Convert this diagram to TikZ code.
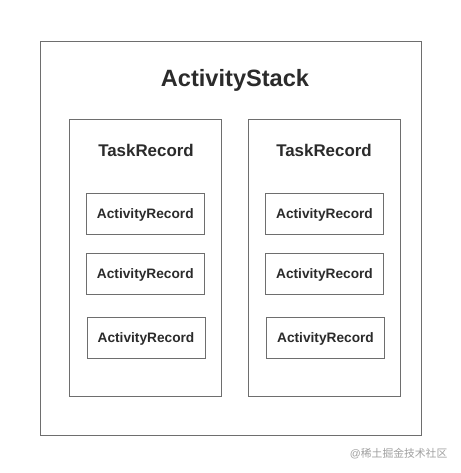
\documentclass[tikz,border=0pt]{standalone}
\usepackage{fontspec}
\setmainfont{Liberation Sans}
\newfontfamily\cjk{Noto Sans CJK SC}
\definecolor{boxline}{HTML}{6E6E6E}
\definecolor{txt}{HTML}{2B2B2B}
\definecolor{wm}{HTML}{A0A0A0}
\begin{document}
\begin{tikzpicture}[x=1pt,y=-1pt,
  frame/.style={draw=boxline,line width=0.9pt,rectangle,inner sep=0pt},
  arbox/.style={frame,minimum width=118pt,minimum height=41pt,text depth=0pt,font=\fontsize{13.7}{16}\selectfont\bfseries,text=txt},
  bigtitle/.style={font=\fontsize{23.6}{28}\selectfont\bfseries,text=txt,inner sep=0pt,text depth=0pt},
  tasktitle/.style={font=\fontsize{16.9}{20}\selectfont\bfseries,text=txt,inner sep=0pt,text depth=0pt}]
\useasboundingbox (0,0) rectangle (460,473);
\fill[white] (0,0) rectangle (460,473);
\node[frame,minimum width=381pt,minimum height=394pt] (stack) at (231,238.2) {};
\node[bigtitle] (stacktitle) at (235,77.5) {ActivityStack};
\node[frame,minimum width=152.4pt,minimum height=276.7pt] (taskL) at (145.5,257.7) {};
\node[frame,minimum width=152.4pt,minimum height=276.7pt] (taskR) at (324.5,257.7) {};
\node[tasktitle] (titleL) at (146,150) {TaskRecord};
\node[tasktitle] (titleR) at (324,150) {TaskRecord};
\node[arbox] (l1) at (145.3,213.7) {ActivityRecord};
\node[arbox] (l2) at (145.3,273.5) {ActivityRecord};
\node[arbox] (l3) at (146,337.8) {ActivityRecord};
\node[arbox] (r1) at (324.5,213.7) {ActivityRecord};
\node[arbox] (r2) at (324.5,273.5) {ActivityRecord};
\node[arbox] (r3) at (325.5,337.8) {ActivityRecord};
\node[text=wm,inner sep=0pt,anchor=east,font=\fontsize{10.8}{13}\selectfont] (wmark) at (447.5,454) {@{\cjk 稀土掘金技术社区}};
\end{tikzpicture}
\end{document}
